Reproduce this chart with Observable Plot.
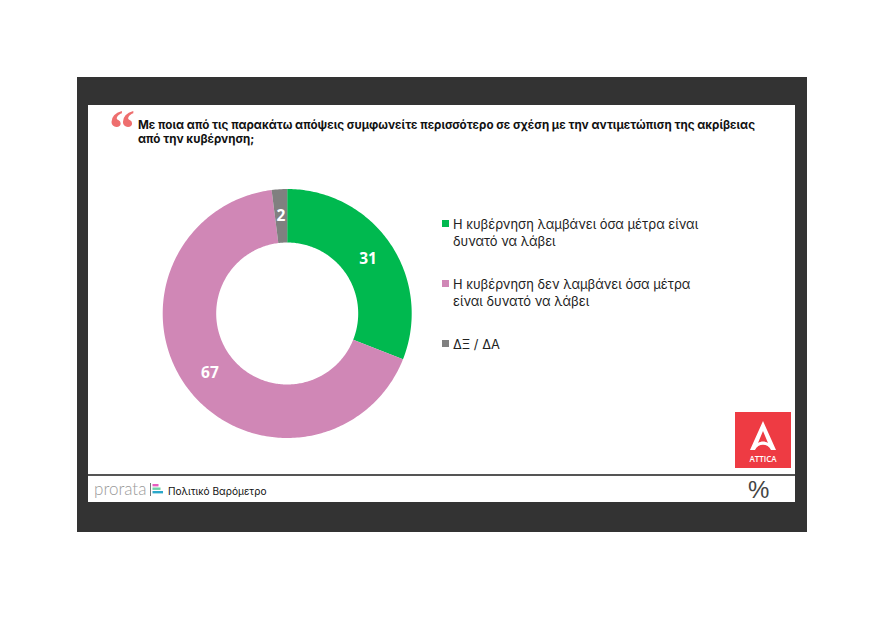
<!DOCTYPE html>
<html lang="el"><head><meta charset="utf-8">
<script src="https://cdn.jsdelivr.net/npm/d3@7"></script>
<script src="https://cdn.jsdelivr.net/npm/@observablehq/plot@0.6"></script>
<style>
html,body{margin:0;padding:0;background:#fff;width:880px;height:623px;overflow:hidden}
body{position:relative;font-family:Inter,"Open Sans",sans-serif;color:#111}
.abs{position:absolute}
.lg{position:absolute;left:453px;font-size:12.9px;line-height:17px;white-space:nowrap;color:#222}
.sw{position:absolute;left:442px;width:7px;height:7px}
</style></head><body>
<div class="abs" style="left:77px;top:77px;width:730px;height:455px;background:#333333"></div>
<div class="abs" style="left:88px;top:105px;width:707px;height:397px;background:#fff"></div>
<div class="abs" style="left:88px;top:474px;width:707px;height:1.5px;background:#555"></div>
<div class="abs" id="quote" style="left:109px;top:103px;font:bold 52px/52px 'Liberation Serif',serif;color:#EE6E6E">“</div>
<div class="abs" id="title" style="left:138px;top:118px;font-size:11.62px;line-height:14px;font-weight:700;color:#111;white-space:nowrap"></div>
<div id="chart" class="abs" style="left:0;top:0"></div>
<div id="legend"></div>
<svg class="abs" style="left:735px;top:412px" width="56" height="56">
<rect width="56" height="56" fill="#EE3B43"/>
<path d="M28 9 L41 38 L36 38 C33 31 23 31 20 38 L15 38 Z M28 19 L23 31 C26 29 30 29 33 31 Z" fill="#fff" fill-rule="evenodd"/>
<text x="28" y="50" text-anchor="middle" font-family="Open Sans" font-size="8" font-weight="600" fill="#fff">ATTICA</text>
</svg>
<div class="abs" style="left:94px;top:479px;font:300 17px/20px Lato,sans-serif;color:#9a9a9a">prorata</div>
<svg class="abs" style="left:150px;top:483px" width="16" height="14">
<rect x="0" y="0" width="1" height="13" fill="#777"/>
<rect x="2.5" y="1" width="6" height="2.4" fill="#E85CC0"/><rect x="2.5" y="4.5" width="8" height="2.4" fill="#6fd0a8"/><rect x="2.5" y="8" width="10.5" height="2.4" fill="#2aa7c9"/>
</svg>
<div class="abs" style="left:168px;top:484px;font-size:10.1px;line-height:14px;color:#111">Πολιτικό Βαρόμετρο</div>
<div class="abs" style="left:748px;top:477px;font:400 24px/26px 'Liberation Sans',sans-serif;color:#444">%</div>
<script>
const titleLines = ["Με ποια από τις παρακάτω απόψεις συμφωνείτε περισσότερο σε σχέση με την αντιμετώπιση της ακρίβειας","από την κυβέρνηση;"];
const categories = ["Η κυβέρνηση λαμβάνει όσα μέτρα είναι δυνατό να λάβει","Η κυβέρνηση δεν λαμβάνει όσα μέτρα είναι δυνατό να λάβει","ΔΞ / ΔΑ"];
const legendLines = [["Η κυβέρνηση λαμβάνει όσα μέτρα είναι","δυνατό να λάβει"],["Η κυβέρνηση δεν λαμβάνει όσα μέτρα","είναι δυνατό να λάβει"],["ΔΞ / ΔΑ"]];
const values = [31,67,2];
const colors = ["#00B94F","#D087B6","#808080"];
const outer = 124.5, inner = 71;

document.getElementById("title").innerHTML = titleLines.join("<br>");
const legendTops = [216,276,336], swatchTops = [220,279.5,340];
document.getElementById("legend").innerHTML = categories.map((c,i)=>
 `<div class="sw" style="top:${swatchTops[i]}px;background:${colors[i]}"></div><div class="lg" style="top:${legendTops[i]}px">${legendLines[i].join("<br>")}</div>`).join("");

const total = d3.sum(values);
const cum = d3.cumsum(values);
const ring = [], labels = [];
categories.forEach((c,i)=>{
  const a0 = (cum[i]-values[i])/total*2*Math.PI, a1 = cum[i]/total*2*Math.PI;
  const n = Math.max(4,Math.ceil((a1-a0)*60));
  for(let k=0;k<=n;k++){const a=a0+(a1-a0)*k/n; ring.push({c,x:outer*Math.sin(a),y:outer*Math.cos(a)});}
  for(let k=n;k>=0;k--){const a=a0+(a1-a0)*k/n; ring.push({c,x:inner*Math.sin(a),y:inner*Math.cos(a)});}
  const m=(a0+a1)/2, r=(outer+inner)/2;
  labels.push({v:values[i],x:r*Math.sin(m),y:r*Math.cos(m)});
});
const plot = Plot.plot({
  width:880,height:623,margin:0,
  x:{domain:[-286.7,593.3],axis:null},
  y:{domain:[-310,313],axis:null},
  color:{domain:categories,range:colors},
  style:{background:"transparent",overflow:"visible"},
  marks:[
    Plot.line(ring,{x:"x",y:"y",z:"c",fill:"c",stroke:null,curve:"linear-closed"}),
    Plot.text(labels,{x:"x",y:"y",text:"v",fill:"#fff",fontSize:15.5,fontWeight:700,fontFamily:"Open Sans"})
  ]
});
document.getElementById("chart").append(plot);
</script>
</body></html>
